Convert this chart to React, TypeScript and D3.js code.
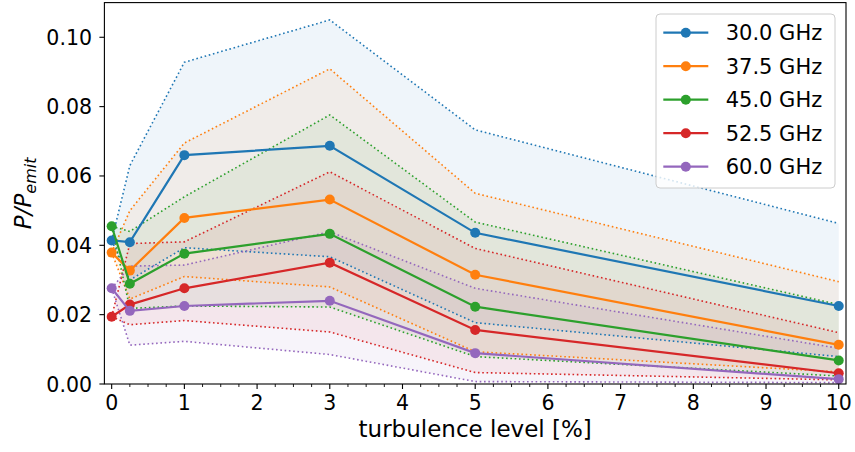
import React from "react";
import * as d3 from "d3";

const turbulence = [0, 0.25, 1, 3, 5, 10];
const frequencies = ["30.0 GHz", "37.5 GHz", "45.0 GHz", "52.5 GHz", "60.0 GHz"];
const colors = ["#1f77b4", "#ff7f0e", "#2ca02c", "#d62728", "#9467bd"];

const mean30 = [0.0414, 0.0409, 0.066, 0.0687, 0.0436, 0.0225];
const upper30 = [0.0414, 0.063, 0.0928, 0.105, 0.0733, 0.0463];
const lower30 = [0.0414, 0.030, 0.0393, 0.0367, 0.0177, 0.0079];

const mean37 = [0.0379, 0.0327, 0.0479, 0.0532, 0.0315, 0.0113];
const upper37 = [0.0379, 0.050, 0.0695, 0.0909, 0.055, 0.0295];
const lower37 = [0.0379, 0.0245, 0.031, 0.028, 0.0093, 0.0035];

const mean45 = [0.0455, 0.0289, 0.0376, 0.0433, 0.0223, 0.0068];
const upper45 = [0.0455, 0.044, 0.054, 0.0776, 0.0467, 0.0229];
const lower45 = [0.0455, 0.0218, 0.0225, 0.0222, 0.0079, 0.0023];

const mean52 = [0.0194, 0.0229, 0.0276, 0.035, 0.0156, 0.0031];
const upper52 = [0.0194, 0.0405, 0.041, 0.0612, 0.0391, 0.0148];
const lower52 = [0.0194, 0.0171, 0.0183, 0.015, 0.0033, 0.0012];

const mean60 = [0.0276, 0.0211, 0.0225, 0.024, 0.0089, 0.0014];
const upper60 = [0.0276, 0.034, 0.0343, 0.0439, 0.0276, 0.0103];
const lower60 = [0.0276, 0.0112, 0.0123, 0.0085, 0.0007, 0.0004];

const xTicks = [0, 1, 2, 3, 4, 5, 6, 7, 8, 9, 10];
const yTicks = [0, 0.02, 0.04, 0.06, 0.08, 0.1];

const series = [
  { mean: mean30, upper: upper30, lower: lower30 },
  { mean: mean37, upper: upper37, lower: lower37 },
  { mean: mean45, upper: upper45, lower: lower45 },
  { mean: mean52, upper: upper52, lower: lower52 },
  { mean: mean60, upper: upper60, lower: lower60 },
];

export default function App() {
  const W = 855, H = 452;
  const left = 104.4, right = 846, top = 2.6, bottom = 384;
  const x = d3.scaleLinear().domain([-0.1, 10.1]).range([left, right]);
  const y = d3.scaleLinear().domain([0, 0.11]).range([bottom, top]);
  const font = "DejaVu Sans";

  const line = d3.line<number>().x((_, i) => x(turbulence[i])).y((d) => y(d));
  const area = (lo: number[], up: number[]) =>
    d3
      .area<number>()
      .x((_, i) => x(turbulence[i]))
      .y0((_, i) => y(lo[i]))
      .y1((_, i) => y(up[i]))(turbulence);

  const minor: number[] = [];
  for (let k = 0; k <= 40; k++) {
    const v = k * 0.25;
    if (k % 4 !== 0) minor.push(v);
  }

  const legX = 656, legY = 14, legW = 179, legH = 174;
  const rowY = (i: number) => 32.7 + i * 33.5;

  return (
    <svg width={W} height={H} style={{ position: "absolute", left: 0, top: 0, background: "#fff" }} fontFamily={font}>
      <rect x={0} y={0} width={W} height={H} fill="#fff" />
      <defs>
        <clipPath id="plotclip">
          <rect x={left} y={top} width={right - left} height={bottom - top} />
        </clipPath>
      </defs>
      <g clipPath="url(#plotclip)">
        {series.map((s, i) => (
          <path key={"f" + i} d={area(s.lower, s.upper) || ""} fill={colors[i]} fillOpacity={0.07} stroke="none" />
        ))}
        {series.map((s, i) => (
          <g key={"d" + i}>
            <path d={line(s.upper) || ""} fill="none" stroke={colors[i]} strokeWidth={1.6} strokeDasharray="1.6 2.7" />
            <path d={line(s.lower) || ""} fill="none" stroke={colors[i]} strokeWidth={1.6} strokeDasharray="1.6 2.7" />
          </g>
        ))}
        {series.map((s, i) => (
          <g key={"m" + i}>
            <path d={line(s.mean) || ""} fill="none" stroke={colors[i]} strokeWidth={2.2} />
            {s.mean.map((v, j) => (
              <circle key={j} cx={x(turbulence[j])} cy={y(v)} r={5} fill={colors[i]} />
            ))}
          </g>
        ))}
      </g>
      {/* spines */}
      <rect x={left} y={top} width={right - left} height={bottom - top} fill="none" stroke="#000" strokeWidth={1.1} />
      {/* x ticks */}
      {xTicks.map((t) => (
        <g key={"xt" + t}>
          <line x1={x(t)} x2={x(t)} y1={bottom} y2={bottom + 5} stroke="#000" strokeWidth={1.1} />
          <text x={x(t)} y={410} textAnchor="middle" fontSize={20.5} fill="#000">
            {t}
          </text>
        </g>
      ))}
      {minor.map((t) => (
        <line key={"mt" + t} x1={x(t)} x2={x(t)} y1={bottom} y2={bottom + 3} stroke="#000" strokeWidth={0.9} />
      ))}
      {/* y ticks */}
      {yTicks.map((t) => (
        <g key={"yt" + t}>
          <line x1={left - 5} x2={left} y1={y(t)} y2={y(t)} stroke="#000" strokeWidth={1.1} />
          <text x={92} y={y(t) + 7.5} textAnchor="end" fontSize={20.5} fill="#000">
            {t.toFixed(2)}
          </text>
        </g>
      ))}
      {/* axis labels */}
      <text x={(left + right) / 2} y={437} textAnchor="middle" fontSize={23} fill="#000">
        turbulence level [%]
      </text>
      <text transform={`translate(31,${(top + bottom) / 2}) rotate(-90)`} textAnchor="middle" fontSize={23} fill="#000" fontStyle="italic">
        P/P<tspan fontSize={16} dy={5}>emit</tspan>
      </text>
      {/* legend */}
      <rect x={legX} y={legY} width={legW} height={legH} rx={4} ry={4} fill="#fff" fillOpacity={0.8} stroke="#cccccc" strokeWidth={1} />
      {frequencies.map((f, i) => (
        <g key={"lg" + i}>
          <line x1={663.3} x2={708.3} y1={rowY(i)} y2={rowY(i)} stroke={colors[i]} strokeWidth={2.2} />
          <circle cx={685.8} cy={rowY(i)} r={5} fill={colors[i]} />
          <text x={725.7} y={rowY(i) + 7.5} fontSize={21} fill="#000">
            {f}
          </text>
        </g>
      ))}
    </svg>
  );
}
